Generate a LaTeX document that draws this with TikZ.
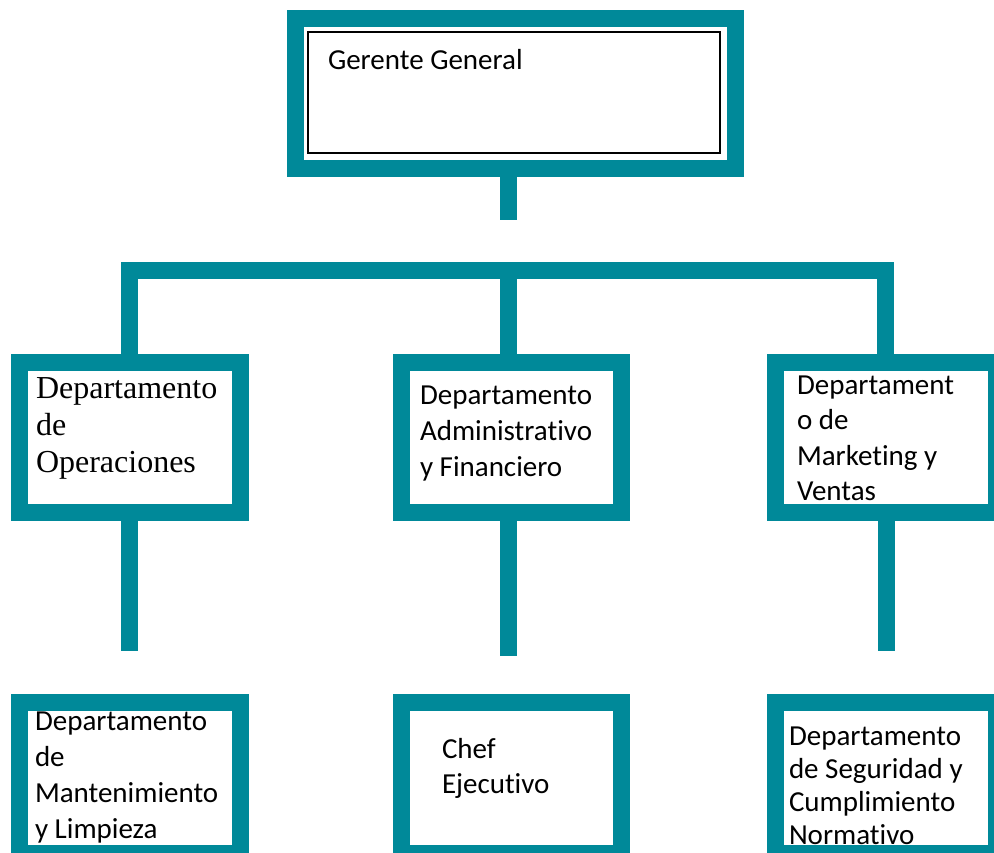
\documentclass[tikz,border=0pt]{standalone}
\usepackage{fontspec}
\setmainfont{Carlito}[Ligatures=NoCommon]
\newfontfamily\timesfont{Liberation Serif}
\definecolor{teal1}{RGB}{0,137,153}
\begin{document}
\begin{tikzpicture}[x=1pt,y=-1pt,
  box/.style={draw=teal1, line width=17pt, fill=white, rectangle, inner sep=0pt, outer sep=0pt, minimum width=220pt, minimum height=150pt},
  conn/.style={draw=teal1, line width=17pt, line cap=butt, line join=miter},
  lbl/.style={anchor=north west, inner sep=0pt, outer sep=0pt, align=left, font=\fontsize{29}{36}\selectfont},
]
\useasboundingbox (0,0) rectangle (994,853);
% top box
\node[box, minimum width=440pt, minimum height=149.5pt] (gg) at (515,93.75) {};
\node[draw=black, line width=1.2pt, rectangle, inner sep=0pt, minimum width=412pt, minimum height=121pt] (ggin) at (514,92.5) {};
\node[lbl] (tgg) at (328,44.8) {\strut Gerente General};
% coordinates
\coordinate (mid) at (508,0);
\coordinate (bar) at (0,270.5);
\coordinate (ggend) at (508,220);
% middle row
\node[box, minimum width=221pt] (op) at (129.5,437) {};
\node[box] (ad) at (511,437) {};
\node[box, minimum width=220.5pt] (mk) at (885.75,437) {};
% bottom row
\node[box, minimum width=221pt, minimum height=151pt] (mt) at (129.5,778) {};
\node[box, minimum height=151pt] (ch) at (511,778) {};
\node[box, minimum width=220.5pt, minimum height=151pt] (sg) at (885.75,778) {};
% stems ends
\coordinate (opend) at (129.5,651);
\coordinate (adend) at (508,656);
\coordinate (mkend) at (886.5,651);
% connectors
\draw[conn] (gg.south -| mid) -- (ggend);
\draw[conn] (op.north) -- (op.north |- bar) -- (mk.north |- bar) -- (mk.north);
\draw[conn] (ad.north -| mid) -- (mid |- bar);
\draw[conn] (op.south) -- (opend);
\draw[conn] (ad.south -| mid) -- (adend);
\draw[conn] (mk.south -| mkend) -- (mkend);
% texts
\node[lbl, font=\timesfont\fontsize{32}{37}\selectfont] (top) at (36,372.1) {\strut Departamento\\de\\Operaciones};
\node[lbl] (tad) at (420,378.8) {\strut Departamento\\Administrativo\\y Financiero};
\node[lbl, font=\fontsize{29}{35.5}\selectfont] (tmk) at (797,369.15) {\strut Departament\\o de\\Marketing y\\Ventas};
\node[lbl] (tmt) at (35,704.8) {\strut Departamento\\de\\Mantenimiento\\y Limpieza};
\node[lbl, font=\fontsize{29}{35}\selectfont] (tch) at (442,733.5) {\strut Chef\\Ejecutivo};
\node[lbl, font=\fontsize{29}{33}\selectfont] (tsg) at (789,721.9) {\strut Departamento\\de Seguridad y\\Cumplimiento\\Normativo};
\end{tikzpicture}
\end{document}
